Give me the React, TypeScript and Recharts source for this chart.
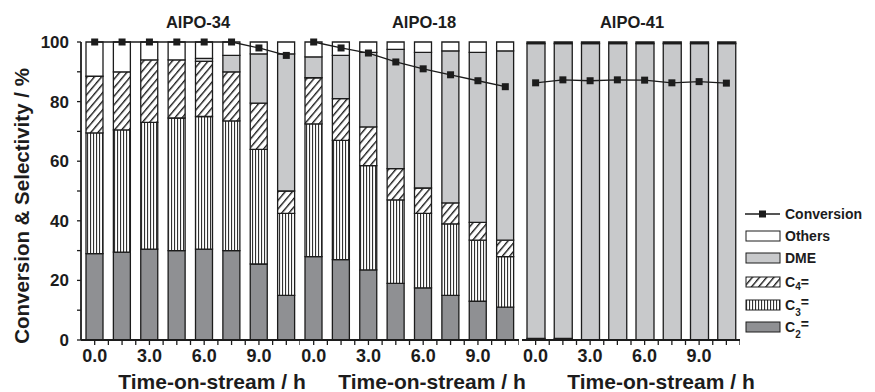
import React from 'react';
import { ComposedChart, Bar, Line, XAxis, YAxis } from 'recharts';

// time on stream (h), one bar every 1.5 h
const times = ['0.0', '1.5', '3.0', '4.5', '6.0', '7.5', '9.0', '10.5'];
const labeledTimes = ['0.0', '3.0', '6.0', '9.0'];
const yTicks = [0, 10, 20, 30, 40, 50, 60, 70, 80, 90, 100];

// AlPO-34 selectivities (%) and conversion (%)
const c2_34 = [29, 29.5, 30.5, 30, 30.5, 30, 25.5, 15];
const c3_34 = [40.5, 41, 42.5, 44.5, 44.5, 43.5, 38.5, 27.5];
const c4_34 = [19, 19.5, 21, 19.5, 18.5, 16.5, 15.5, 7.5];
const dme_34 = [0, 0, 0, 0, 1, 5.5, 16.5, 46];
const others_34 = [11.5, 10, 6, 6, 5.5, 4.5, 4, 4];
const conv_34 = [100, 100, 100, 100, 100, 100, 98, 95.5];

// AlPO-18
const c2_18 = [28, 27, 23.5, 19, 17.5, 15, 13, 11];
const c3_18 = [44.5, 40, 35, 28, 25, 24, 20.5, 17];
const c4_18 = [15.5, 14, 13, 10.5, 8.5, 7, 6, 5.5];
const dme_18 = [7, 14.5, 25, 40, 45.5, 51, 57, 63.5];
const others_18 = [5, 4.5, 3.5, 2.5, 3.5, 3, 3.5, 3];
const conv_18 = [100, 98, 96.3, 93.3, 91, 89, 87, 85];

// AlPO-41
const c2_41 = [0.5, 0.5, 0, 0, 0, 0, 0, 0];
const c3_41 = [0, 0, 0, 0, 0, 0, 0, 0];
const c4_41 = [0, 0, 0, 0, 0, 0, 0, 0];
const dme_41 = [99, 99, 99.5, 99.5, 99.5, 99.5, 99.5, 99.5];
const others_41 = [0.5, 0.5, 0.5, 0.5, 0.5, 0.5, 0.5, 0.5];
const conv_41 = [86.3, 87.3, 87, 87.3, 87.2, 86.3, 86.7, 86.2];

const buildRows = (c2: number[], c3: number[], c4: number[], dme: number[], others: number[], conv: number[]) =>
  times.map((t, i) => ({ t, c2: c2[i], c3: c3[i], c4: c4[i], dme: dme[i], others: others[i], conv: conv[i] }));

const rows34 = buildRows(c2_34, c3_34, c4_34, dme_34, others_34, conv_34);
const rows18 = buildRows(c2_18, c3_18, c4_18, dme_18, others_18, conv_18);
const rows41 = buildRows(c2_41, c3_41, c4_41, dme_41, others_41, conv_41);

const FONT = '"Liberation Sans", Arial, sans-serif';
const INK = '#1c1c1c';
const C2_FILL = '#8f9093';
const DME_FILL = '#c8c9cb';
const TOP = 42;
const BOTTOM = 340;
const H = 392;

const Patterns = ({ id }: { id: string }) => (
  <defs>
    <pattern id={`${id}-vert`} width="3" height="10" patternUnits="userSpaceOnUse">
      <rect width="3" height="10" fill="#fff" />
      <line x1="0.6" y1="0" x2="0.6" y2="10" stroke={INK} strokeWidth="1" />
    </pattern>
    <pattern id={`${id}-hatch`} width="5.5" height="5.5" patternUnits="userSpaceOnUse" patternTransform="rotate(40)">
      <rect width="5.5" height="5.5" fill="#fff" />
      <line x1="0.7" y1="0" x2="0.7" y2="5.5" stroke={INK} strokeWidth="1.4" />
    </pattern>
  </defs>
);

const squareDot = (p: any) => (
  <rect key={`d-${p.index}`} x={p.cx - 3.5} y={p.cy - 3.5} width={7} height={7} fill={INK} />
);

type PanelProps = {
  id: string;
  rows: any[];
  left: number;
  width: number;
  axisW: number;
  barSize: number;
};

function Panel({ id, rows, left, width, axisW, barSize }: PanelProps) {
  const plotW = width - axisW;
  const band = plotW / times.length;

  const renderTick = (props: any) => {
    const { x, y, payload } = props;
    const show = labeledTimes.includes(payload.value);
    return (
      <g>
        <line x1={x} x2={x} y1={y} y2={y + 5} stroke={INK} strokeWidth={1.3} />
        <line x1={x + band / 2} x2={x + band / 2} y1={y} y2={y + 5} stroke={INK} strokeWidth={1.3} />
        {show && (
          <text x={x} y={y + 22} textAnchor="middle" fontFamily={FONT} fontWeight="bold" fontSize={18} fill={INK}>
            {payload.value}
          </text>
        )}
      </g>
    );
  };

  const barProps = { stackId: 's', barSize, stroke: INK, strokeWidth: 1.3, isAnimationActive: false };

  return (
    <div style={{ position: 'absolute', left, top: 0 }}>
      <ComposedChart width={width} height={H} data={rows} margin={{ top: TOP, right: 0, bottom: 0, left: 0 }} barCategoryGap={0}>
        <Patterns id={id} />
        <XAxis
          dataKey="t"
          height={H - BOTTOM}
          tickLine={false}
          tickSize={0}
          tickMargin={0}
          interval={0}
          tick={renderTick}
          axisLine={{ stroke: INK, strokeWidth: 1.8 }}
        />
        {axisW > 0 ? (
          <YAxis
            width={axisW}
            domain={[0, 100]}
            ticks={yTicks}
            interval={0}
            tickSize={4}
            tickMargin={8}
            tickFormatter={(v: number) => (v % 20 === 0 ? String(v) : '')}
            tick={{ fontFamily: FONT, fontWeight: 'bold', fontSize: 17, fill: INK }}
            tickLine={{ stroke: INK, strokeWidth: 1.3 }}
            axisLine={{ stroke: INK, strokeWidth: 1.8 }}
          />
        ) : (
          <YAxis hide domain={[0, 100]} />
        )}
        <Bar dataKey="c2" fill={C2_FILL} {...barProps} />
        <Bar dataKey="c3" fill={`url(#${id}-vert)`} {...barProps} />
        <Bar dataKey="c4" fill={`url(#${id}-hatch)`} {...barProps} />
        <Bar dataKey="dme" fill={DME_FILL} {...barProps} />
        <Bar dataKey="others" fill="#fff" {...barProps} />
        <Line dataKey="conv" type="linear" stroke={INK} strokeWidth={1.3} dot={squareDot} isAnimationActive={false} />
      </ComposedChart>
    </div>
  );
}

const panelTitles = [
  { text: 'AlPO-34', x: 198 },
  { text: 'AlPO-18', x: 424 },
  { text: 'AlPO-41', x: 632 },
];
const xTitleCenters = [212, 432, 661];

const legendItems = [
  { key: 'others', label: 'Others', fill: '#fff' },
  { key: 'dme', label: 'DME', fill: DME_FILL },
  { key: 'c4', label: 'C4', fill: 'url(#lg-hatch)' },
  { key: 'c3', label: 'C3', fill: 'url(#lg-vert)' },
  { key: 'c2', label: 'C2', fill: C2_FILL },
];

function Overlay() {
  const rowY = [236, 258, 282, 305, 327];
  const txt = { fontFamily: FONT, fontWeight: 'bold' as const, fill: INK };
  return (
    <svg width={875} height={H} style={{ position: 'absolute', left: 0, top: 0, pointerEvents: 'none' }}>
      <Patterns id="lg" />
      {panelTitles.map((p) => (
        <text key={p.text} x={p.x} y={28} textAnchor="middle" fontSize={16.5} {...txt}>
          {p.text}
        </text>
      ))}
      {xTitleCenters.map((x, i) => (
        <text key={i} x={x} y={389} textAnchor="middle" fontSize={21} {...txt}>
          Time-on-stream / h
        </text>
      ))}
      <text transform="translate(29, 206) rotate(-90)" textAnchor="middle" fontSize={20.5} {...txt}>
        Conversion &amp; Selectivity / %
      </text>

      <g transform="translate(740, 0)">
        <line x1={5} x2={40} y1={214} y2={214} stroke={INK} strokeWidth={1.3} />
        <rect x={19} y={210.5} width={7} height={7} fill={INK} />
        <text x={45} y={219} fontSize={14} {...txt}>
          Conversion
        </text>
        {legendItems.map((it, i) => {
          const y = rowY[i];
          const isC = it.label.startsWith('C');
          return (
            <g key={it.key}>
              <rect x={6} y={y - 5} width={34} height={10} fill={it.fill} stroke={INK} strokeWidth={1} />
              <text x={45} y={y + 5} fontSize={14} {...txt}>
                {isC ? (
                  <>
                    C
                    <tspan fontSize={10} dy={it.key === 'c4' ? 3 : 6}>{it.label.slice(1)}</tspan>
                    <tspan dy={it.key === 'c4' ? -3 : -9}>=</tspan>
                  </>
                ) : (
                  it.label
                )}
              </text>
            </g>
          );
        })}
      </g>
    </svg>
  );
}

export default function App() {
  return (
    <div style={{ position: 'absolute', left: 0, top: 0, width: 875, height: H, background: '#fff' }}>
      <Panel id="p34" rows={rows34} left={0} width={300} axisW={81} barSize={17} />
      <Panel id="p18" rows={rows18} left={300} width={219} axisW={0} barSize={17} />
      <Panel id="p41" rows={rows41} left={522} width={218} axisW={0} barSize={18} />
      <Overlay />
    </div>
  );
}
